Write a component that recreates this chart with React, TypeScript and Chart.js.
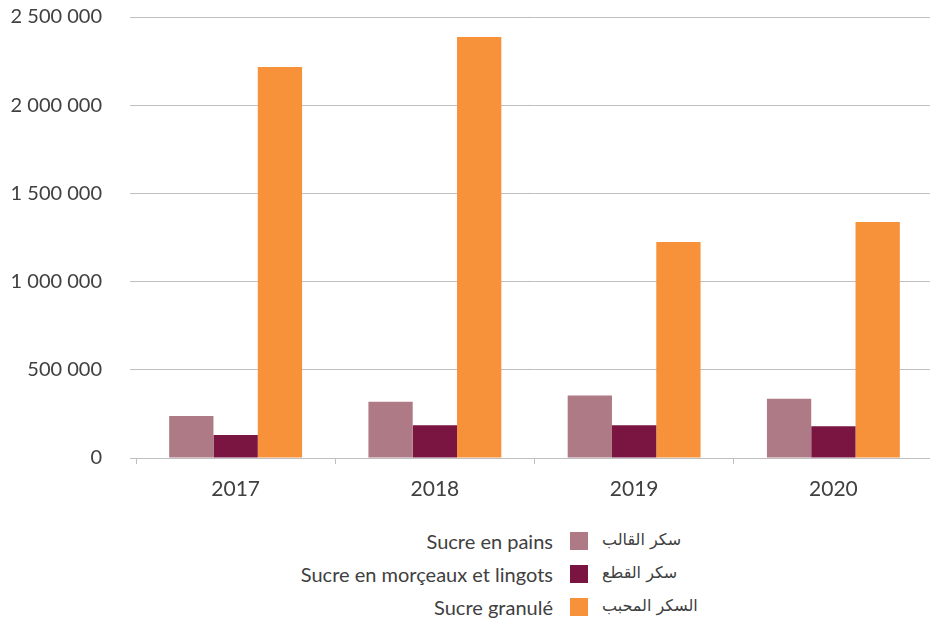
import React, { useEffect, useRef } from "react";
import { Chart, registerables } from "chart.js";
Chart.register(...registerables);

const categories = ["2017", "2018", "2019", "2020"];
const seriesFr = ["Sucre en pains", "Sucre en morçeaux et lingots", "Sucre granulé"];
const seriesAr = ["سكر القالب", "سكر القطع", "السكر المحبب"];
const seriesColors = ["#ae7a85", "#7a1542", "#f7923b"];
const sucreEnPains = [238000, 319000, 355000, 336000];
const sucreEnMorceaux = [130000, 185000, 185000, 180000];
const sucreGranule = [2216000, 2387000, 1224000, 1338000];
const yMin = 0;
const yMax = 2500000;
const yStep = 500000;

const seriesValues = [sucreEnPains, sucreEnMorceaux, sucreGranule];

const FONT = 'Lato, "DejaVu Sans", sans-serif';
const TEXT = "#404040";
const AXIS = "#bfbfbf";

const fmt = (n: number) => String(n).replace(/\B(?=(\d{3})+(?!\d))/g, " ");

export default function App() {
  const ref = useRef<HTMLCanvasElement | null>(null);

  useEffect(() => {
    if (!ref.current) return;
    const chart = new Chart(ref.current, {
      type: "bar",
      data: {
        labels: categories,
        datasets: seriesValues.map((vals, i) => ({
          label: seriesFr[i],
          data: vals,
          backgroundColor: seriesColors[i],
          borderWidth: 0,
          categoryPercentage: 0.667,
          barPercentage: 1,
        })),
      },
      options: {
        responsive: false,
        animation: false,
        layout: { padding: { top: 17, right: 1, left: 0, bottom: 0 } },
        plugins: { legend: { display: false }, tooltip: { enabled: false } },
        scales: {
          x: {
            grid: {
              display: true,
              drawOnChartArea: false,
              drawTicks: true,
              tickLength: 6,
              color: AXIS,
              offset: true,
            },
            border: { display: true, color: AXIS, width: 1 },
            ticks: { color: TEXT, font: { family: FONT, size: 21 }, padding: 13 },
            afterFit: (s: any) => {
              s.height = 47;
              s.paddingLeft = 0;
              s.paddingRight = 0;
            },
          },
          y: {
            min: yMin,
            max: yMax,
            grid: { color: AXIS, tickLength: 6, drawTicks: true },
            border: { display: false },
            ticks: {
              stepSize: yStep,
              color: TEXT,
              font: { family: FONT, size: 20 },
              padding: 28,
              callback: (v: any) => fmt(Number(v)),
            },
            afterFit: (s: any) => {
              s.width = 136;
              s.paddingTop = 0;
              s.paddingBottom = 0;
            },
          },
        },
      },
    });
    return () => chart.destroy();
  }, []);

  return (
    <div
      style={{
        position: "absolute",
        left: 0,
        top: 0,
        width: 930,
        height: 618,
        overflow: "hidden",
        background: "#fff",
        fontFamily: FONT,
        color: TEXT,
      }}
    >
      <canvas ref={ref} width={934} height={505} style={{ display: "block" }} />
      {seriesFr.map((fr, i) => {
        const cy = 541 + i * 33;
        return (
          <React.Fragment key={fr}>
            <div
              style={{
                position: "absolute",
                right: 930 - 553,
                top: cy - 12,
                height: 24,
                lineHeight: "24px",
                fontSize: 20,
                whiteSpace: "nowrap",
              }}
            >
              {fr}
            </div>
            <div
              style={{
                position: "absolute",
                left: 570,
                top: cy - 9,
                width: 18,
                height: 18,
                background: seriesColors[i],
              }}
            />
            <div
              dir="rtl"
              style={{
                position: "absolute",
                left: 602,
                top: cy - 13,
                height: 24,
                lineHeight: "24px",
                fontSize: 16,
                whiteSpace: "nowrap",
                fontFamily: '"DejaVu Sans", sans-serif',
              }}
            >
              {seriesAr[i]}
            </div>
          </React.Fragment>
        );
      })}
    </div>
  );
}
